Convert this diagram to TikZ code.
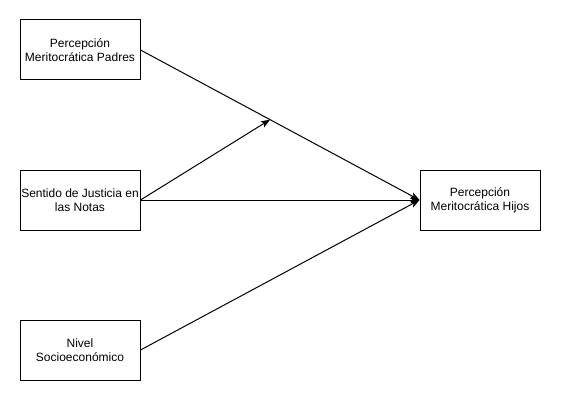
\documentclass[tikz,border=0pt]{standalone}
\usepackage{fontspec}
\setmainfont{Liberation Sans}
\usetikzlibrary{arrows.meta,calc}
\begin{document}
\begin{tikzpicture}[x=1pt,y=-1pt,
  box/.style={draw, line width=1pt, minimum width=120pt, minimum height=60pt, inner sep=0pt, align=center, font=\fontsize{12pt}{14pt}\selectfont},
  conn/.style={line width=1pt, -{Stealth[length=9pt,width=7pt,inset=2pt]}}]
\useasboundingbox (0,0) rectangle (561,401);
\node[box] (a) at (80,50) {Percepción\\Meritocrática Padres};
\node[box] (b) at (80,200) {Sentido de Justicia en\\las Notas};
\node[box] (c) at (80,350) {Nivel\\Socioeconómico};
\node[box] (d) at (480,200) {Percepción\\Meritocrática Hijos};
\coordinate (m) at ($(a.east)!0.4643!(d.west)$);
\draw[conn] (a.east) -- (d.west);
\draw[conn] (b.east) -- (m);
\draw[conn] (b.east) -- (d.west);
\draw[conn] (c.east) -- (d.west);
\end{tikzpicture}
\end{document}
